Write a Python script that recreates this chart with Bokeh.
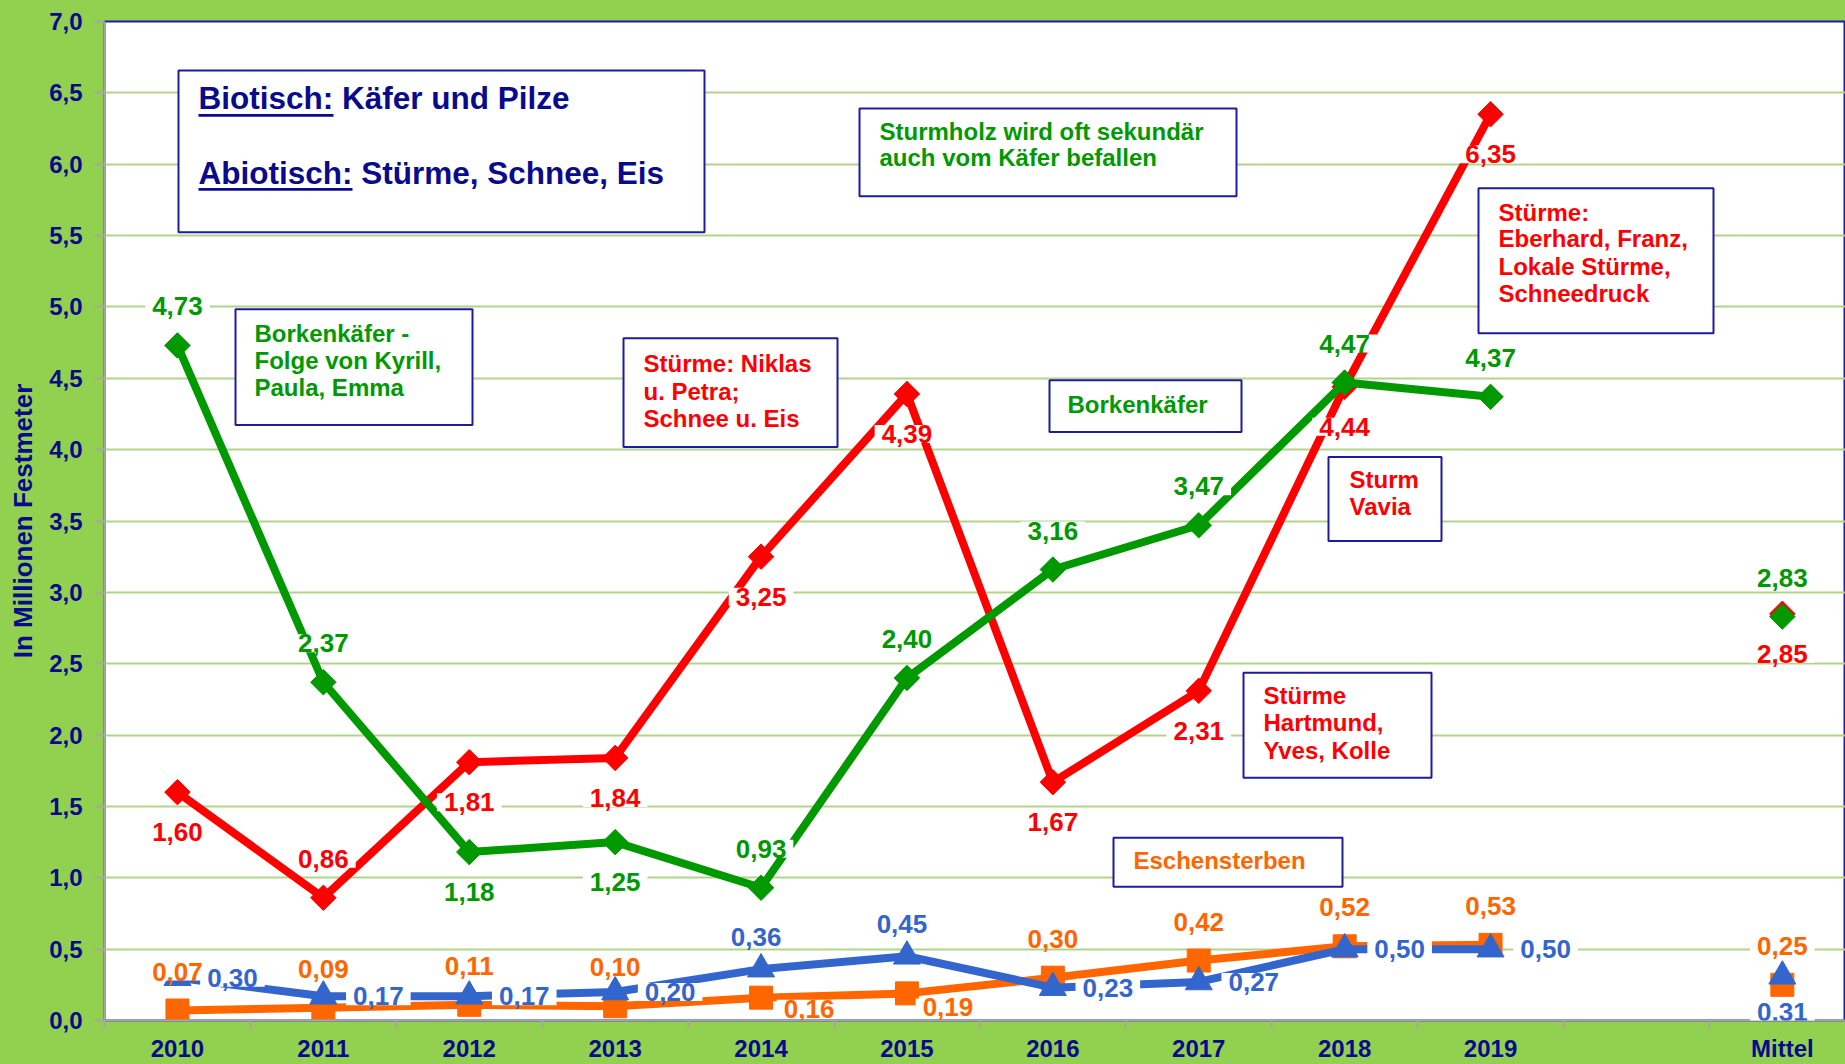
import numpy as np
from bokeh.plotting import figure
from bokeh.models import Range1d, FixedTicker, Label, BoxAnnotation, CustomJSTickFormatter
from bokeh.embed import file_html
from bokeh.resources import INLINE

# ---------------- data ----------------
categories = ["2010", "2011", "2012", "2013", "2014", "2015", "2016", "2017", "2018", "2019", "", "Mittel"]
years = categories[:10]
abiotisch = [1.60, 0.86, 1.81, 1.84, 3.25, 4.39, 1.67, 2.31, 4.44, 6.35]   # Stürme, Schnee, Eis
abiotisch_mittel = 2.85
borkenkaefer = [4.73, 2.37, 1.18, 1.25, 0.93, 2.40, 3.16, 3.47, 4.47, 4.37]
borkenkaefer_mittel = 2.83
eschensterben = [0.07, 0.09, 0.11, 0.10, 0.16, 0.19, 0.30, 0.42, 0.52, 0.53]
eschensterben_mittel = 0.25
sonstige = [0.30, 0.17, 0.17, 0.20, 0.36, 0.45, 0.23, 0.27, 0.50, 0.50]
sonstige_mittel = 0.31
y_ticks = [0.0, 0.5, 1.0, 1.5, 2.0, 2.5, 3.0, 3.5, 4.0, 4.5, 5.0, 5.5, 6.0, 6.5, 7.0]

# ---------------- style ----------------
FONT = "Liberation Sans"
RED = "#ff0000"
GREEN = "#009900"
ORANGE = "#ff6600"
BLUE = "#3366cc"
NAVY = "#0a0a8c"
BOXLINE = "#1c1ca0"
BG = "#92d050"

xs = list(range(len(years)))
x_mittel = categories.index("Mittel")

W, H = 1845, 1064
LEFT, TOP, BOTTOM = 104, 21, 43
X_END = -0.5 + (W - LEFT) / 145.9

p = figure(width=W, height=H, output_backend="svg", toolbar_location=None, title=None,
           x_range=Range1d(-0.5, X_END), y_range=Range1d(0, 7),
           min_border_left=LEFT, min_border_right=0, min_border_top=TOP, min_border_bottom=BOTTOM,
           border_fill_color=BG, background_fill_color="white")

p.outline_line_color = BOXLINE
p.outline_line_width = 2

# y axis
p.yaxis.ticker = FixedTicker(ticks=y_ticks)
p.yaxis.formatter = CustomJSTickFormatter(code="return tick.toFixed(1).replace('.', ',');")
p.yaxis.axis_line_color = "#a6a6a6"
p.yaxis.axis_line_width = 2
p.yaxis.major_tick_line_color = "#a6a6a6"
p.yaxis.major_tick_line_width = 2
p.yaxis.major_tick_out = 9
p.yaxis.major_tick_in = 0
p.yaxis.minor_tick_line_color = None
p.yaxis.major_label_standoff = 13
p.yaxis.major_label_text_font = FONT
p.yaxis.major_label_text_font_size = "24px"
p.yaxis.major_label_text_font_style = "bold"
p.yaxis.major_label_text_color = NAVY
p.yaxis.axis_label = "In Millionen Festmeter"
p.yaxis.axis_label_text_font = FONT
p.yaxis.axis_label_text_font_size = "26px"
p.yaxis.axis_label_text_font_style = "bold"
p.yaxis.axis_label_text_color = NAVY
p.yaxis.axis_label_standoff = 8

# x axis
p.xaxis.ticker = FixedTicker(ticks=xs + [x_mittel],
                             minor_ticks=[i - 0.5 for i in range(len(categories))])
p.xaxis.formatter = CustomJSTickFormatter(args=dict(labels=categories),
                                          code="return labels[Math.round(tick)];")
p.xaxis.axis_line_color = "#a6a6a6"
p.xaxis.axis_line_width = 2
p.xaxis.major_tick_line_color = None
p.xaxis.major_tick_out = 0
p.xaxis.major_tick_in = 0
p.xaxis.minor_tick_line_color = "#a6a6a6"
p.xaxis.minor_tick_line_width = 2
p.xaxis.minor_tick_out = 8
p.xaxis.minor_tick_in = 0
p.xaxis.major_label_standoff = 6
p.xaxis.major_label_text_font = FONT
p.xaxis.major_label_text_font_size = "24px"
p.xaxis.major_label_text_font_style = "bold"
p.xaxis.major_label_text_color = NAVY

p.xgrid.visible = False
p.ygrid.ticker = FixedTicker(ticks=y_ticks)
p.ygrid.grid_line_color = "#b3d38a"
p.ygrid.grid_line_width = 2

# ---------------- series ----------------
series = [
    (abiotisch, abiotisch_mittel, RED, "diamond"),
    (borkenkaefer, borkenkaefer_mittel, GREEN, "diamond"),
    (eschensterben, eschensterben_mittel, ORANGE, "square"),
    (sonstige, sonstige_mittel, BLUE, "triangle"),
]
for vals, mittel, col, mk in series:
    p.line(xs, vals, line_color=col, line_width=8, line_join="round")
    mx = xs + [x_mittel]
    my = vals + [mittel]
    if mk == "diamond":
        p.scatter(mx, my, marker="square", angle=np.pi / 4, size=18, color=col)
    elif mk == "square":
        p.scatter(mx, my, marker="square", size=23, color=col)
    else:
        p.scatter(mx, my, marker="triangle", size=27, color=col)

# ---------------- annotation helpers (page px -> data) ----------------
XS = 145.9
YS = (H - TOP - BOTTOM) / 7.0
SX0 = LEFT
SY0 = H - BOTTOM


def X(px):
    return -0.5 + (px - SX0) / XS


def Y(py):
    return (SY0 - py) / YS


boxes = [
    (178, 70, 704, 232),
    (859, 108, 1236, 196),
    (235, 309, 472, 425),
    (623, 338, 837, 447),
    (1049, 380, 1241, 432),
    (1478, 188, 1713, 333),
    (1328, 457, 1441, 541),
    (1243, 673, 1431, 778),
    (1113, 838, 1342, 887),
]
for l, t, r, b in boxes:
    p.add_layout(BoxAnnotation(left=X(l), right=X(r), top=Y(t), bottom=Y(b),
                               fill_color="white", fill_alpha=1.0,
                               line_color=BOXLINE, line_width=2, line_alpha=1.0))

box_texts = [
    (["Biotisch: Käfer und Pilze"], NAVY, 31.5, 198, [98]),
    (["Abiotisch: Stürme, Schnee, Eis"], NAVY, 31.5, 198, [173]),
    (["Sturmholz wird oft sekundär", "auch vom Käfer befallen"], GREEN, 24, 879, [131, 157]),
    (["Borkenkäfer -", "Folge von Kyrill,", "Paula, Emma"], GREEN, 24, 254, [333, 360, 387]),
    (["Stürme: Niklas", "u. Petra;", "Schnee u. Eis"], RED, 24, 643, [363, 391, 418]),
    (["Borkenkäfer"], GREEN, 24, 1067, [404]),
    (["Stürme:", "Eberhard, Franz,", "Lokale Stürme,", "Schneedruck"], RED, 24, 1498, [212, 238, 266, 293]),
    (["Sturm", "Vavia"], RED, 24, 1349, [479, 506]),
    (["Stürme", "Hartmund,", "Yves, Kolle"], RED, 24, 1263, [696, 723, 751]),
    (["Eschensterben"], ORANGE, 24, 1133, [861]),
]
for lines, col, fs, lx, ys in box_texts:
    for txt, ly in zip(lines, ys):
        p.add_layout(Label(x=X(lx), y=Y(ly), text=txt, text_color=col,
                           text_font=FONT, text_font_size=f"{fs}px",
                           text_font_style="bold", text_align="left", text_baseline="middle"))

for l, r, yy in [(198, 333, 115), (198, 352, 189)]:
    p.add_layout(BoxAnnotation(left=X(l), right=X(r), top=Y(yy - 1.3), bottom=Y(yy + 1.3),
                               fill_color=NAVY, fill_alpha=1.0, line_color=None))

# ---------------- data labels ----------------
OFFS = {"above": (0, -39), "below": (0, 40), "right": (55, 0), "above2": (-5, -32),
        "rb1": (48, 11), "rb2": (41, 14), "below2": (0, 36)}
label_pos = {
    RED: ["below", "above", "below", "below", "below", "below", "below", "below", "below", "below", "below"],
    GREEN: ["above", "above", "below", "below", "above", "above", "above", "above", "above", "above", "above"],
    ORANGE: ["above", "above", "above", "above", "rb1", "rb2", "above", "above", "above", "above", "above"],
    BLUE: ["right", "right", "right", "right", "above2", "above2", "right", "right", "right", "right", "below2"],
}
for vals, mittel, col, mk in series:
    for xv, v, pos in zip(xs + [x_mittel], vals + [mittel], label_pos[col]):
        dx, dy = OFFS[pos]
        p.add_layout(Label(x=xv, y=v, x_offset=dx, y_offset=-dy,
                           text=f"{v:.2f}".replace(".", ","), text_color=col,
                           text_font=FONT, text_font_size="26px", text_font_style="bold",
                           text_align="center", text_baseline="middle",
                           background_fill_color="white", padding=(7, 0)))

html = file_html(p, INLINE, title="Schadholz")
html = html.replace("</head>", "<style>html, body { background: #92d050; }</style></head>", 1)
open("out.html", "w").write(html)
